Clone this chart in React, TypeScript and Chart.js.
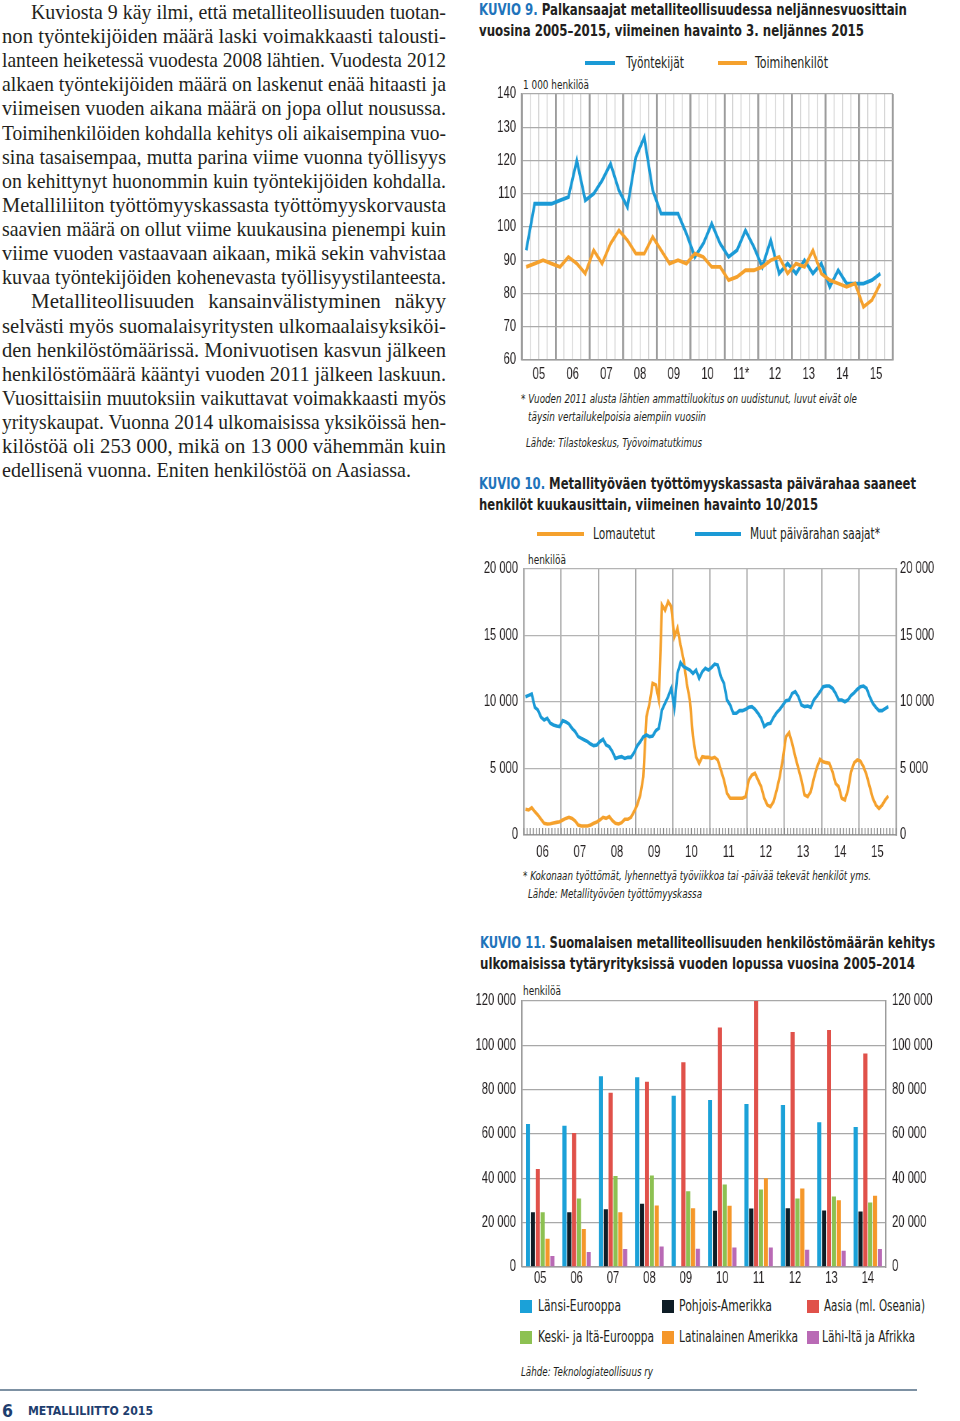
import React, { useEffect, useLayoutEffect, useRef } from "react";
import { Chart, registerables } from "chart.js";
Chart.register(...registerables);

const NARROW = '"Liberation Sans Narrow", "DejaVu Sans Condensed", "Roboto Condensed", "Arial Narrow", sans-serif';
const CANVAS_FONT = '"Liberation Sans", Arial, sans-serif';
const SERIF = '"Liberation Serif", "DejaVu Serif", serif';
const TEXT = "#231f20";
const BLUE = "#1b9ad6";
const ORANGE = "#f5a12d";
const TITLE_BLUE = "#1f74bb";
const NAVY = "#1e3e6e";
const TICK = 16;
// horizontal compression of the canvases (gives condensed-looking tick labels)
const S = 0.7;
const cu = (px: number) => px / S;
// top offset Chart.js reserves for the top y tick label (half line height + tick padding)
const TOP_PAD = 19;

// ---------- Kuvio 9 (quarterly, 2005Q1–2015Q3) ----------
const k9Years = ["05", "06", "07", "08", "09", "10", "11*", "12", "13", "14", "15"];
const k9Workers = [
  93, 107, 107, 107,
  108, 109, 120, 108,
  110, 114, 119, 111,
  106, 121, 127, 111,
  104, 104, 104, 98,
  91, 95, 101, 95,
  91, 93, 99, 94,
  88, 96, 86, 89,
  86, 90, 86, 89,
  82, 87, 83, 83,
  83, 84, 86,
];
const k9Officials = [
  88, 89, 90, 89,
  88, 91, 89, 86,
  93, 89, 95, 99,
  96, 92, 92, 97,
  93, 89, 90, 89,
  92, 91, 88, 88,
  84, 85, 87, 87,
  88, 90, 91, 86,
  89, 88, 93, 86,
  84, 83, 82, 83,
  76, 78, 83,
];

// ---------- Kuvio 10 (monthly, 1/2006–10/2015) ----------
const k10Years = ["06", "07", "08", "09", "10", "11", "12", "13", "14", "15"];
const k10Layoffs = [
  1930, 1880, 2050, 1750, 1500, 1180, 880, 830, 850, 900, 950, 1000,
  1130, 1250, 1330, 1250, 1050, 750, 680, 680, 680, 750, 880, 980,
  1130, 1330, 1250, 1380, 1080, 880, 830, 930, 1180, 1180, 1330, 1750,
  2250, 3000, 4390, 8900, 9900, 11400, 11280, 10150, 17290, 16900, 17540, 17170,
  14900, 15540, 14280, 13150, 11400, 10150, 7390, 5890, 5390, 5890, 5840, 5840,
  5760, 5840, 5640, 4890, 4130, 3130, 2760, 2760, 2760, 2760, 2760, 2880,
  4130, 4510, 4640, 4130, 3630, 2760, 2250, 2130, 2510, 3380, 4390, 5760,
  7390, 7690, 6890, 5890, 5010, 4130, 3010, 2880, 3260, 4260, 5090, 5690,
  5510, 5440, 5390, 4760, 3880, 3630, 2760, 2630, 3380, 4760, 5440, 5640,
  5560, 5140, 4510, 3630, 2760, 2250, 2000, 2250, 2630, 2930,
];
const k10Others = [
  10400, 10500, 10600, 9600, 9400, 8850, 8650, 8770, 8400, 8270, 8200, 8150,
  8600, 8500, 8350, 8020, 7770, 7400, 7270, 7140, 7020, 6840, 6720, 6770,
  7020, 7190, 6770, 6640, 6270, 5760, 5840, 5890, 5760, 5840, 5840, 6190,
  6690, 7020, 7390, 7520, 7390, 7440, 7840, 8020, 9400, 9900, 10400, 11030,
  9600, 12150, 12960, 12650, 12530, 12400, 12150, 12400, 11780, 12280, 12530, 12400,
  12600, 12850, 12780, 11900, 11400, 10150, 9770, 9150, 9150, 9350, 9350, 9450,
  9600, 9650, 9450, 9150, 8770, 8150, 8350, 8400, 8850, 9200, 9450, 9770,
  10100, 10150, 10650, 10780, 10400, 9770, 9650, 9700, 9600, 10150, 10450, 10780,
  11150, 11200, 11200, 11030, 10650, 10150, 10150, 10020, 10150, 10500, 10700, 10950,
  11150, 11200, 11030, 10400, 9900, 9600, 9350, 9350, 9500, 9650,
];

// ---------- Kuvio 11 (annual, 2005–2014) ----------
const k11Years = ["05", "06", "07", "08", "09", "10", "11", "12", "13", "14"];
const k11West = [64500, 63750, 86100, 85650, 77250, 75300, 73500, 73050, 65250, 63150];
const k11NorthAm = [24750, 24750, 26100, 28500, null, 25350, 26400, 26550, 25500, 25050];
const k11Asia = [44250, 60450, 78600, 83550, 92400, 108000, 120000, 106050, 106950, 96300];
const k11CentralEast = [24750, 30900, 41100, 41250, 34200, 37200, 34950, 30900, 31800, 29100];
const k11LatAm = [12750, 17100, 24750, 27750, 26550, 27600, 40050, 35400, 30150, 32100];
const k11MidEastAfrica = [4950, 6750, 8100, 9300, 8250, 8850, 8850, 7800, 7350, 8100];

const k11Colors = ["#1ba1d8", "#0e1d26", "#e0514a", "#8dc152", "#f5972a", "#b96ab5"];
const k11Names = [
  "Länsi-Eurooppa",
  "Pohjois-Amerikka",
  "Aasia (ml. Oseania)",
  "Keski- ja Itä-Eurooppa",
  "Latinalainen Amerikka",
  "Lähi-Itä ja Afrikka",
];

const bodyLines: [string, boolean, boolean][] = [
  ["Kuviosta 9 käy ilmi, että metalliteollisuuden tuotan-", true, true],
  ["non työntekijöiden määrä laski voimakkaasti talousti-", false, true],
  ["lanteen heiketessä vuodesta 2008 lähtien. Vuodesta 2012", false, true],
  ["alkaen työntekijöiden määrä on laskenut enää hitaasti ja", false, true],
  ["viimeisen vuoden aikana määrä on jopa ollut nousussa.", false, true],
  ["Toimihenkilöiden kohdalla kehitys oli aikaisempina vuo-", false, true],
  ["sina tasaisempaa, mutta parina viime vuonna työllisyys", false, true],
  ["on kehittynyt huonommin kuin työntekijöiden kohdalla.", false, true],
  ["Metalliliiton työttömyyskassasta työttömyyskorvausta", false, true],
  ["saavien määrä on ollut viime kuukausina pienempi kuin", false, true],
  ["viime vuoden vastaavaan aikaan, mikä sekin vahvistaa", false, true],
  ["kuvaa työntekijöiden kohenevasta työllisyystilanteesta.", false, true],
  ["Metalliteollisuuden kansainvälistyminen näkyy", true, true],
  ["selvästi myös suomalaisyritysten ulkomaalaisyksiköi-", false, true],
  ["den henkilöstömäärissä. Monivuotisen kasvun jälkeen", false, true],
  ["henkilöstömäärä kääntyi vuoden 2011 jälkeen laskuun.", false, true],
  ["Vuosittaisiin muutoksiin vaikuttavat voimakkaasti myös", false, true],
  ["yrityskaupat. Vuonna 2014 ulkomaisissa yksiköissä hen-", false, true],
  ["kilöstöä oli 253 000, mikä on 13 000 vähemmän kuin", false, true],
  ["edellisenä vuonna. Eniten henkilöstöä on Aasiassa.", false, false],
];

const fmtThousands = (v: number) => (v === 0 ? "0" : `${Math.round(v / 1000)} 000`);

type TProps = {
  x: number;
  y: number;
  w?: number;
  size: number;
  bold?: boolean;
  italic?: boolean;
  color?: string;
  family?: string;
  justify?: boolean;
  children: React.ReactNode;
};

function T({ x, y, w, size, bold, italic, color, family, justify, children }: TProps) {
  const ref = useRef<HTMLDivElement>(null);
  useLayoutEffect(() => {
    const el = ref.current;
    if (!el || !w) return;
    const nat = el.getBoundingClientRect().width;
    if (justify && nat <= w) {
      el.style.width = `${w}px`;
      el.style.textAlign = "justify";
      (el.style as any).textAlignLast = "justify";
      el.style.whiteSpace = "normal";
    } else {
      el.style.transform = `translateY(-50%) scaleX(${w / nat})`;
    }
  }, []);
  const lh = Math.round(size * 1.25);
  return (
    <div
      ref={ref}
      style={{
        position: "absolute",
        left: x,
        top: y,
        transform: "translateY(-50%)",
        transformOrigin: "left center",
        whiteSpace: "nowrap",
        fontSize: size,
        lineHeight: `${lh}px`,
        height: lh,
        fontWeight: bold ? 700 : 400,
        fontStyle: italic ? "italic" : "normal",
        color: color || TEXT,
        fontFamily: family || NARROW,
        display: "inline-block",
        overflow: "visible",
      }}
    >
      {children}
    </div>
  );
}

// Canvas whose drawing buffer is wider than its CSS box: the chart is squeezed horizontally by S.
function ChartBox({ x, y, w, h, make }: { x: number; y: number; w: number; h: number; make: (c: HTMLCanvasElement) => Chart }) {
  const ref = useRef<HTMLCanvasElement>(null);
  useEffect(() => {
    const ch = make(ref.current!);
    return () => ch.destroy();
  }, []);
  return (
    <canvas
      ref={ref}
      width={Math.round(w / S)}
      height={h}
      style={{ position: "absolute", left: x, top: y, width: w, height: h, display: "block" }}
    />
  );
}

Chart.defaults.font.family = CANVAS_FONT;
Chart.defaults.color = TEXT;

function makeK9(c: HTMLCanvasElement) {
  // canvas CSS: left 478, width 427 ; plot 522..893 , 94..360
  return new Chart(c, {
    type: "line",
    data: {
      datasets: [
        {
          label: "Työntekijät",
          data: k9Workers.map((v, i) => ({ x: i + 0.5, y: v })),
          borderColor: BLUE,
          borderWidth: 3.8,
          pointRadius: 0,
          tension: 0,
          order: 1,
        },
        {
          label: "Toimihenkilöt",
          data: k9Officials.map((v, i) => ({ x: i + 0.5, y: v })),
          borderColor: ORANGE,
          borderWidth: 3.8,
          pointRadius: 0,
          tension: 0,
          order: 0,
        },
      ],
    },
    options: {
      responsive: false,
      animation: false,
      events: [],
      layout: { padding: { top: TOP_PAD, right: cu(905 - 893), left: 0, bottom: 0 } },
      plugins: { legend: { display: false }, tooltip: { enabled: false } },
      scales: {
        x: {
          type: "linear",
          min: 0,
          max: 44,
          afterFit: (s: any) => {
            s.height = 25;
          },
          ticks: {
            stepSize: 1,
            autoSkip: false,
            maxRotation: 0,
            includeBounds: true,
            padding: 5,
            font: { size: TICK },
            color: TEXT,
            callback: (v: any) => (v % 4 === 2 ? k9Years[(v - 2) / 4] : ""),
          },
          grid: {
            drawTicks: false,
            color: (ctx: any) => (ctx.tick && ctx.tick.value % 4 === 0 ? "#9c9c9c" : "#d2d2d2"),
            lineWidth: (ctx: any) => (ctx.tick && ctx.tick.value % 4 === 0 ? 2.8 : 1.4),
          },
          border: { display: true, color: "#9c9c9c", width: 1.5 },
        },
        y: {
          min: 60,
          max: 140,
          afterFit: (s: any) => {
            s.width = cu(522 - 478);
          },
          ticks: { stepSize: 10, padding: cu(6), font: { size: TICK }, color: TEXT },
          grid: { drawTicks: false, color: "#ababab", lineWidth: 1.3 },
          border: { display: true, color: "#9c9c9c", width: 2.8 },
        },
      },
    },
  } as any);
}

const monthTicks = {
  id: "monthTicks",
  beforeDatasetsDraw(chart: any) {
    const xs = chart.scales.x;
    const area = chart.chartArea;
    const ctx = chart.ctx;
    ctx.save();
    ctx.strokeStyle = "#8a8a8a";
    ctx.lineWidth = 1.4;
    for (let m = 0; m <= 120; m++) {
      const px = xs.getPixelForValue(m);
      ctx.beginPath();
      ctx.moveTo(px, area.bottom);
      ctx.lineTo(px, area.bottom - 7);
      ctx.stroke();
    }
    ctx.restore();
  },
};

function makeK10(c: HTMLCanvasElement) {
  // canvas CSS: left 470, width 480 ; plot 524..896 , 569..835
  return new Chart(c, {
    type: "line",
    data: {
      datasets: [
        {
          label: "Lomautetut",
          data: k10Layoffs.map((v, i) => ({ x: i + 0.5, y: v })),
          borderColor: ORANGE,
          borderWidth: 3.6,
          pointRadius: 0,
          tension: 0,
          order: 1,
        },
        {
          label: "Muut päivärahan saajat*",
          data: k10Others.map((v, i) => ({ x: i + 0.5, y: v })),
          borderColor: BLUE,
          borderWidth: 3.6,
          pointRadius: 0,
          tension: 0,
          order: 0,
        },
      ],
    },
    plugins: [monthTicks],
    options: {
      responsive: false,
      animation: false,
      events: [],
      layout: { padding: { top: TOP_PAD, right: 0, left: 0, bottom: 0 } },
      plugins: { legend: { display: false }, tooltip: { enabled: false } },
      scales: {
        x: {
          type: "linear",
          min: 0,
          max: 120,
          afterFit: (s: any) => {
            s.height = 30;
          },
          ticks: {
            stepSize: 6,
            autoSkip: false,
            maxRotation: 0,
            padding: 8,
            font: { size: TICK },
            color: TEXT,
            callback: (v: any) => (v % 12 === 6 ? k10Years[(v - 6) / 12] : ""),
          },
          grid: {
            drawTicks: false,
            color: (ctx: any) => (ctx.tick && ctx.tick.value % 12 === 0 ? "#a8a8a8" : "rgba(0,0,0,0)"),
            lineWidth: 1.7,
          },
          border: { display: true, color: "#9c9c9c", width: 1.5 },
        },
        y: {
          min: 0,
          max: 20000,
          afterFit: (s: any) => {
            s.width = cu(524 - 470);
          },
          ticks: { stepSize: 5000, padding: cu(6), font: { size: TICK }, color: TEXT, callback: (v: any) => fmtThousands(v) },
          grid: { drawTicks: false, color: "#b4b4b4", lineWidth: 1.3 },
          border: { display: true, color: "#a8a8a8", width: 2.2 },
        },
        y2: {
          position: "right",
          min: 0,
          max: 20000,
          afterFit: (s: any) => {
            s.width = cu(950 - 896);
          },
          ticks: { stepSize: 5000, padding: cu(4), font: { size: TICK }, color: TEXT, callback: (v: any) => fmtThousands(v) },
          grid: { drawTicks: false, drawOnChartArea: false },
          border: { display: true, color: "#a8a8a8", width: 2.2 },
        },
      },
    },
  } as any);
}

function makeK11(c: HTMLCanvasElement) {
  // canvas CSS: left 470, width 480 ; plot 522..886 , 1001..1267
  const series = [k11West, k11NorthAm, k11Asia, k11CentralEast, k11LatAm, k11MidEastAfrica];
  return new Chart(c, {
    type: "bar",
    data: {
      labels: k11Years,
      datasets: series.map((d, i) => ({
        label: k11Names[i],
        data: d,
        backgroundColor: k11Colors[i],
        borderWidth: 0,
        categoryPercentage: 0.8,
        barPercentage: 0.85,
      })),
    },
    options: {
      responsive: false,
      animation: false,
      events: [],
      layout: { padding: { top: TOP_PAD, right: 0, left: 0, bottom: 0 } },
      plugins: { legend: { display: false }, tooltip: { enabled: false } },
      scales: {
        x: {
          afterFit: (s: any) => {
            s.height = 23;
          },
          ticks: { padding: 2, font: { size: TICK }, color: TEXT, maxRotation: 0 },
          grid: { display: false, drawTicks: false },
          border: { display: true, color: "#9c9c9c", width: 1.5 },
        },
        y: {
          min: 0,
          max: 120000,
          afterFit: (s: any) => {
            s.width = cu(522 - 470);
          },
          ticks: { stepSize: 20000, padding: cu(6), font: { size: TICK }, color: TEXT, callback: (v: any) => fmtThousands(v) },
          grid: { drawTicks: false, color: "#a8a8a8", lineWidth: 1.3 },
          border: { display: true, color: "#9c9c9c", width: 2.2 },
        },
        y2: {
          position: "right",
          min: 0,
          max: 120000,
          afterFit: (s: any) => {
            s.width = cu(950 - 886);
          },
          ticks: { stepSize: 20000, padding: cu(6), font: { size: TICK }, color: TEXT, callback: (v: any) => fmtThousands(v) },
          grid: { drawTicks: false, drawOnChartArea: false },
          border: { display: true, color: "#9c9c9c", width: 2.2 },
        },
      },
    },
  } as any);
}

function LegendLine({ x1, x2, y, color }: { x1: number; x2: number; y: number; color: string }) {
  return <div style={{ position: "absolute", left: x1, top: y - 2, width: x2 - x1, height: 4, background: color }} />;
}
function LegendSquare({ x, y, color }: { x: number; y: number; color: string }) {
  return <div style={{ position: "absolute", left: x, top: y - 6, width: 12, height: 13, background: color }} />;
}

export default function App() {
  const lineY = (i: number) => 12 + i * 24.12;
  const legendRows = [
    [0, 1, 2],
    [3, 4, 5],
  ];
  const sqX = [520, 662, 807];
  const txX = [538, 679, 824];
  const txW = [
    [83, 93, 101],
    [116, 119, 93],
  ];
  return (
    <div style={{ position: "absolute", left: 0, top: 0, width: 960, height: 1421, background: "#fff", overflow: "hidden" }}>
      {/* Body text */}
      {bodyLines.map(([txt, indent, just], i) => (
        <T key={i} x={indent ? 31 : 2} y={lineY(i)} w={just ? (indent ? 415 : 444) : 409} size={21} family={SERIF} justify={just}>
          {txt}
        </T>
      ))}

      {/* KUVIO 9 */}
      <T x={479} y={10} w={428} size={16} bold>
        <span style={{ color: TITLE_BLUE }}>KUVIO 9.</span> Palkansaajat metalliteollisuudessa neljännesvuosittain
      </T>
      <T x={479} y={31} w={385} size={16} bold>
        vuosina 2005–2015, viimeinen havainto 3. neljännes 2015
      </T>
      <LegendLine x1={585} x2={615} y={63} color={BLUE} />
      <T x={626} y={63} w={58} size={15}>Työntekijät</T>
      <LegendLine x1={718} x2={747} y={63} color={ORANGE} />
      <T x={755} y={63} w={73} size={15}>Toimihenkilöt</T>
      <T x={523} y={85} w={66} size={12.5}>1 000 henkilöä</T>
      <ChartBox x={478} y={94 - TOP_PAD} w={427} h={385 - (94 - TOP_PAD)} make={makeK9} />
      <T x={521} y={399} w={336} size={13} italic>* Vuoden 2011 alusta lähtien ammattiluokitus on uudistunut, luvut eivät ole</T>
      <T x={528} y={417} w={178} size={13} italic>täysin vertailukelpoisia aiempiin vuosiin</T>
      <T x={526} y={443} w={176} size={13} italic>Lähde: Tilastokeskus, Työvoimatutkimus</T>

      {/* KUVIO 10 */}
      <T x={479} y={484} w={437} size={16} bold>
        <span style={{ color: TITLE_BLUE }}>KUVIO 10.</span> Metallityöväen työttömyyskassasta päivärahaa saaneet
      </T>
      <T x={479} y={505} w={339} size={16} bold>
        henkilöt kuukausittain, viimeinen havainto 10/2015
      </T>
      <LegendLine x1={537} x2={584} y={534} color={ORANGE} />
      <T x={593} y={534} w={62} size={15}>Lomautetut</T>
      <LegendLine x1={695} x2={741} y={534} color={BLUE} />
      <T x={750} y={534} w={130} size={15}>Muut päivärahan saajat*</T>
      <T x={528} y={560} w={38} size={12.5}>henkilöä</T>
      <ChartBox x={470} y={569 - TOP_PAD} w={480} h={865 - (569 - TOP_PAD)} make={makeK10} />
      <T x={523} y={876} w={348} size={13} italic>* Kokonaan työttömät, lyhennettyä työviikkoa tai -päivää tekevät henkilöt yms.</T>
      <T x={528} y={894} w={174} size={13} italic>Lähde: Metallityövöen työttömyyskassa</T>

      {/* KUVIO 11 */}
      <T x={480} y={943} w={455} size={16} bold>
        <span style={{ color: TITLE_BLUE }}>KUVIO 11.</span> Suomalaisen metalliteollisuuden henkilöstömäärän kehitys
      </T>
      <T x={480} y={964} w={435} size={16} bold>
        ulkomaisissa tytäryrityksissä vuoden lopussa vuosina 2005–2014
      </T>
      <T x={523} y={991} w={38} size={12.5}>henkilöä</T>
      <ChartBox x={470} y={1001 - TOP_PAD} w={480} h={1290 - (1001 - TOP_PAD)} make={makeK11} />
      {legendRows.map((row, r) =>
        row.map((k, c) => (
          <React.Fragment key={k}>
            <LegendSquare x={sqX[c]} y={r === 0 ? 1306 : 1337} color={k11Colors[k]} />
            <T x={txX[c] - (r === 1 && c === 2 ? 2 : 0)} y={r === 0 ? 1306 : 1337} w={txW[r][c]} size={15}>
              {k11Names[k]}
            </T>
          </React.Fragment>
        ))
      )}
      <T x={521} y={1372} w={132} size={13} italic>Lähde: Teknologiateollisuus ry</T>

      {/* Footer */}
      <div style={{ position: "absolute", left: 0, top: 1389, width: 917, height: 2, background: "#7d91a3" }} />
      <T x={2} y={1410} w={11} size={18} bold color={NAVY}>6</T>
      <T x={28} y={1411} w={125} size={13} bold color={NAVY}>METALLILIITTO 2015</T>
    </div>
  );
}
